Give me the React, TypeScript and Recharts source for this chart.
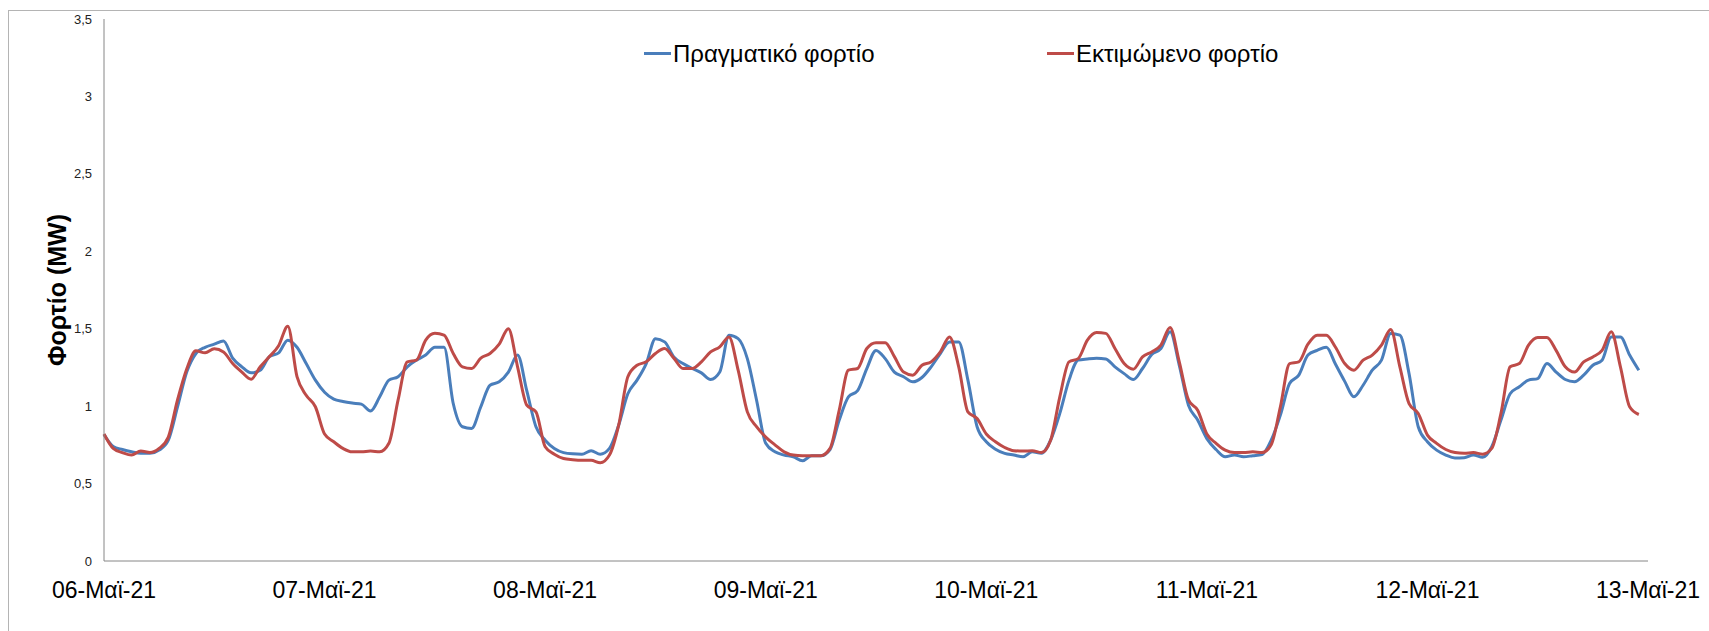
import React from "react";
import { LineChart, Line, XAxis, YAxis, Label } from "recharts";

// Hourly load, 06-May-21 00:00 .. 12-May-21 23:00 (MW)
const actualLoad: number[] = [
  0.817, 0.74, 0.72, 0.705, 0.695, 0.695, 0.716, 0.78, 0.995, 1.22, 1.34, 1.38,
  1.4, 1.42, 1.31, 1.254, 1.215, 1.232, 1.32, 1.344, 1.426, 1.38, 1.275, 1.168,
  1.09, 1.045, 1.03, 1.02, 1.013, 0.968, 1.06, 1.168, 1.19, 1.254, 1.297, 1.33,
  1.38, 1.38, 1.017, 0.867, 0.856, 0.996, 1.135, 1.157, 1.22, 1.33, 1.1, 0.867,
  0.78, 0.727, 0.7, 0.692, 0.69, 0.712, 0.69, 0.727, 0.877, 1.08, 1.168, 1.275,
  1.436, 1.415, 1.318, 1.275, 1.243, 1.215, 1.172, 1.22, 1.458, 1.436, 1.307, 1.04,
  0.76, 0.705, 0.684, 0.673, 0.647, 0.68, 0.68, 0.72, 0.91, 1.06, 1.1, 1.243,
  1.36, 1.307, 1.22, 1.19, 1.157, 1.185, 1.254, 1.34, 1.415, 1.415, 1.168, 0.867,
  0.77, 0.722, 0.695, 0.684, 0.673, 0.705, 0.695, 0.78, 0.953, 1.168, 1.297, 1.305,
  1.31, 1.305, 1.254, 1.21, 1.172, 1.243, 1.333, 1.372, 1.48, 1.264, 1.006, 0.91,
  0.79, 0.72, 0.673, 0.684, 0.673, 0.68, 0.688, 0.78, 0.942, 1.146, 1.2, 1.33,
  1.36, 1.38, 1.27, 1.16, 1.06, 1.135, 1.232, 1.297, 1.469, 1.458, 1.21, 0.867,
  0.77, 0.716, 0.684, 0.665, 0.667, 0.684, 0.67, 0.738, 0.91, 1.08, 1.125, 1.168,
  1.178, 1.275, 1.22, 1.172, 1.157, 1.2, 1.264, 1.297, 1.447, 1.447, 1.33, 1.232,
];

const forecastLoad: number[] = [
  0.82, 0.727, 0.7, 0.684, 0.71, 0.7, 0.727, 0.8, 1.04, 1.24, 1.357, 1.344,
  1.37, 1.35, 1.275, 1.22, 1.174, 1.254, 1.32, 1.39, 1.516, 1.19, 1.07, 0.996,
  0.82, 0.77, 0.727, 0.705, 0.705, 0.71, 0.705, 0.76, 1.04, 1.286, 1.297, 1.426,
  1.47, 1.458, 1.34, 1.254, 1.243, 1.31, 1.34, 1.4, 1.5, 1.254, 1.006, 0.963,
  0.738, 0.69, 0.662, 0.654, 0.65, 0.65, 0.634, 0.684, 0.877, 1.19, 1.264, 1.286,
  1.34, 1.372, 1.31, 1.243, 1.243, 1.286, 1.35, 1.383, 1.447, 1.232, 0.963, 0.867,
  0.8, 0.75, 0.705, 0.684, 0.68, 0.68, 0.68, 0.727, 0.974, 1.232, 1.243, 1.372,
  1.41, 1.41, 1.32, 1.22, 1.2, 1.264, 1.286, 1.35, 1.447, 1.254, 0.963, 0.92,
  0.82, 0.77, 0.733, 0.712, 0.71, 0.712, 0.7, 0.78, 1.06, 1.286, 1.307, 1.426,
  1.475, 1.47, 1.372, 1.275, 1.239, 1.318, 1.35, 1.394, 1.508, 1.286, 1.04, 0.974,
  0.82, 0.76, 0.716, 0.7, 0.7, 0.705, 0.7, 0.75, 0.996, 1.275, 1.286, 1.4,
  1.458, 1.458, 1.38, 1.275, 1.232, 1.297, 1.33, 1.394, 1.495, 1.254, 1.017, 0.953,
  0.813, 0.76, 0.72, 0.7, 0.695, 0.7, 0.69, 0.727, 0.953, 1.254, 1.275, 1.394,
  1.443, 1.443, 1.36, 1.254, 1.22, 1.286, 1.318, 1.36, 1.48, 1.254, 0.996, 0.946,
];

const seriesNames = ["Πραγματικό φορτίο", "Εκτιμώμενο φορτίο"];
const seriesColors = ["#4A7EBB", "#BE4B48"];

const xTickValues = [0, 24, 48, 72, 96, 120, 144, 168];
const xTickLabels = [
  "06-Μαϊ-21",
  "07-Μαϊ-21",
  "08-Μαϊ-21",
  "09-Μαϊ-21",
  "10-Μαϊ-21",
  "11-Μαϊ-21",
  "12-Μαϊ-21",
  "13-Μαϊ-21",
];
const yTickValues = [0, 0.5, 1, 1.5, 2, 2.5, 3, 3.5];
const yTickLabels = ["0", "0,5", "1", "1,5", "2", "2,5", "3", "3,5"];
const yAxisTitle = "Φορτίο (MW)";

const data = actualLoad.map((v, i) => ({
  h: i,
  actual: v,
  forecast: forecastLoad[i],
}));

const FONT = '"Liberation Sans", Arial, sans-serif';

const legendItems = [
  { name: seriesNames[0], color: seriesColors[0], left: 644 },
  { name: seriesNames[1], color: seriesColors[1], left: 1047 },
];

export default function App() {
  return (
    <>
      <style>{`html,body{margin:0;padding:0;overflow:hidden;background:#fff}`}</style>
      <div
        style={{
          position: "relative",
          width: 1709,
          height: 631,
          overflow: "hidden",
          background: "#fff",
          fontFamily: FONT,
        }}
      >
        <div
          style={{
            position: "absolute",
            left: 8,
            top: 10,
            width: 1760,
            height: 700,
            border: "1px solid #b4b4b4",
            boxSizing: "border-box",
          }}
        />
        <div style={{ position: "absolute", left: 0, top: 0 }}>
          <LineChart
            width={1709}
            height={631}
            data={data}
            margin={{ top: 19, right: 61, bottom: 0, left: 10 }}
          >
            <XAxis
              dataKey="h"
              type="number"
              domain={[0, 168]}
              ticks={xTickValues}
              interval={0}
              tickFormatter={(v: number) => xTickLabels[xTickValues.indexOf(v)]}
              tickLine={false}
              tickSize={0}
              tickMargin={21}
              height={70}
              axisLine={{ stroke: "#868686", strokeWidth: 1 }}
              tick={{ fill: "#000", fontSize: 23, fontFamily: FONT }}
            />
            <YAxis
              type="number"
              domain={[0, 3.5]}
              ticks={yTickValues}
              interval={0}
              tickFormatter={(v: number) => yTickLabels[yTickValues.indexOf(v)]}
              tickLine={false}
              tickSize={0}
              tickMargin={12}
              width={94}
              axisLine={{ stroke: "#868686", strokeWidth: 1 }}
              tick={{ fill: "#222", fontSize: 13, fontFamily: FONT }}
            >
              <Label
                value={yAxisTitle}
                angle={-90}
                position="center"
                style={{
                  fontSize: 25,
                  fontWeight: "bold",
                  fontFamily: FONT,
                  fill: "#000",
                }}
              />
            </YAxis>
            <Line
              type="monotone"
              dataKey="actual"
              name={seriesNames[0]}
              stroke={seriesColors[0]}
              strokeWidth={3}
              dot={false}
              activeDot={false}
              isAnimationActive={false}
            />
            <Line
              type="monotone"
              dataKey="forecast"
              name={seriesNames[1]}
              stroke={seriesColors[1]}
              strokeWidth={3}
              dot={false}
              activeDot={false}
              isAnimationActive={false}
            />
          </LineChart>
        </div>
        {legendItems.map((it) => (
          <div
            key={it.name}
            style={{ position: "absolute", left: it.left, top: 40, height: 28 }}
          >
            <div
              style={{
                position: "absolute",
                left: 0,
                top: 12,
                width: 27,
                height: 3,
                background: it.color,
              }}
            />
            <div
              style={{
                position: "absolute",
                left: 29,
                top: 0,
                fontSize: 24,
                lineHeight: "28px",
                whiteSpace: "nowrap",
                color: "#000",
                fontFamily: FONT,
              }}
            >
              {it.name}
            </div>
          </div>
        ))}
      </div>
    </>
  );
}
